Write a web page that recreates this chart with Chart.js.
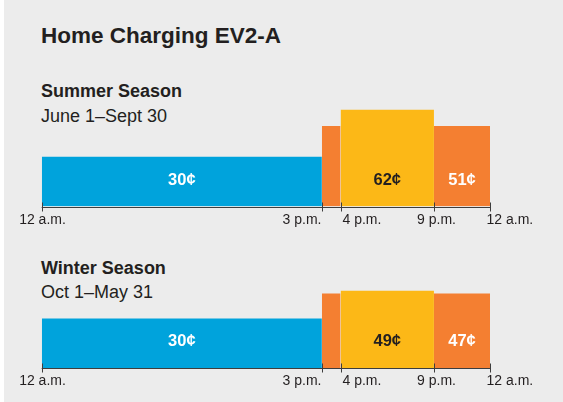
<!DOCTYPE html>
<html>
<head>
<meta charset="utf-8">
<script src="https://cdn.jsdelivr.net/npm/chart.js@4.4.1/dist/chart.umd.min.js"></script>
<style>
  html, body { margin: 0; padding: 0; }
  body {
    width: 563px; height: 402px; position: relative; overflow: hidden;
    background: #ececec; color: #231f20;
    font-family: "Liberation Sans", Arial, sans-serif;
  }
  .edge { position: absolute; left: 0; top: 0; width: 4px; height: 402px; background: #fff; }
  .txt { position: absolute; left: 41px; white-space: nowrap; line-height: 1; }
  .title { font-size: 22.5px; font-weight: bold; top: 24.5px; }
  .season { font-size: 18px; font-weight: bold; }
  .dates { font-size: 18px; }
  canvas { position: absolute; left: 0; }
</style>
</head>
<body>
<div class="edge"></div>
<div class="txt title">Home Charging EV2-A</div>
<div class="txt season" style="top:81.8px">Summer Season</div>
<div class="txt dates" style="top:107.3px">June 1–Sept 30</div>
<div class="txt season" style="top:258.8px">Winter Season</div>
<div class="txt dates" style="top:282.8px">Oct 1–May 31</div>
<canvas id="summer" width="563" height="140" style="top:100px"></canvas>
<canvas id="winter" width="563" height="140" style="top:262px"></canvas>
<script>
// time periods (hours from midnight)
const periodStart = [0, 15, 16, 21];
const periodEnd = [15, 16, 21, 24];
// price per kWh in cents
const summerPrices = [30, 51, 62, 51];
const winterPrices = [30, 47, 49, 47];
// axis ticks
const tickHours = [0, 15, 16, 21, 24];
const tickLabels = ["12 a.m.", "3 p.m.", "4 p.m.", "9 p.m.", "12 a.m."];

const Y_MIN = -4;
const Y_MAX = 66;
const periodColors = ["#00a3dc", "#f47f31", "#fcb817", "#f47f31"];
const labelColors = ["#ffffff", "#ffffff", "#231f20", "#ffffff"];
const tickAlign = ["center", "right", "left", "center", "left"];
const tickShift = [0, -1, 1, 2, -4];

const seasonPlugin = {
    id: "season",
    afterDatasetsDraw(chart) {
        const ctx = chart.ctx;
        const x = chart.scales.x;
        const y = chart.scales.y;
        const axisY = Math.round(y.getPixelForValue(Y_MIN)) + 0.5;
        ctx.save();
        ctx.strokeStyle = "#3d3d3d";
        ctx.lineWidth = 1;
        ctx.beginPath();
        ctx.moveTo(x.getPixelForValue(0), axisY);
        ctx.lineTo(x.getPixelForValue(24), axisY);
        ctx.stroke();

        ctx.font = '14px "Liberation Sans Narrow", "Liberation Sans", sans-serif';
        ctx.fillStyle = "#231f20";
        ctx.textBaseline = "alphabetic";
        tickHours.forEach(function (h, i) {
            const px = Math.round(x.getPixelForValue(h)) + 0.5;
            ctx.beginPath();
            ctx.moveTo(px, axisY - 5);
            ctx.lineTo(px, axisY + 4);
            ctx.stroke();
            ctx.textAlign = tickAlign[i];
            ctx.fillText(tickLabels[i], px + tickShift[i], axisY + 16.5);
        });

        // price labels inside the wider periods
        ctx.font = 'bold 16.5px "Liberation Sans", Arial, sans-serif';
        ctx.textAlign = "center";
        const prices = chart.data.datasets.map(function (d) { return d.data[0].y; });
        prices.forEach(function (p, i) {
            if (periodEnd[i] - periodStart[i] < 2) return;
            const cx = x.getPixelForValue((periodStart[i] + periodEnd[i]) / 2);
            ctx.fillStyle = labelColors[i];
            ctx.fillText(p + "¢", cx, axisY - 22.5);
        });
        ctx.restore();
    }
};

function makeChart(id, prices, pad) {
    const datasets = prices.map(function (p, i) {
        return {
            data: [{ x: periodStart[i], y: p }, { x: periodEnd[i], y: p }],
            backgroundColor: periodColors[i],
            borderColor: "rgba(0,0,0,0)",
            borderWidth: 0,
            pointRadius: 0,
            tension: 0,
            fill: { value: Y_MIN }
        };
    });
    return new Chart(document.getElementById(id).getContext("2d"), {
        type: "line",
        data: { datasets: datasets },
        options: {
            responsive: false,
            animation: false,
            events: [],
            layout: { padding: pad },
            plugins: { legend: { display: false }, tooltip: { enabled: false } },
            scales: {
                x: { type: "linear", min: 0, max: 24, display: false },
                y: { min: Y_MIN, max: Y_MAX, display: false }
            }
        },
        plugins: [seasonPlugin]
    });
}

makeChart("summer", summerPrices, { left: 41.7, right: 73, top: 4, bottom: 33.5 });
makeChart("winter", winterPrices, { left: 41.7, right: 73, top: 3.8, bottom: 33.7 });
</script>
</body>
</html>
